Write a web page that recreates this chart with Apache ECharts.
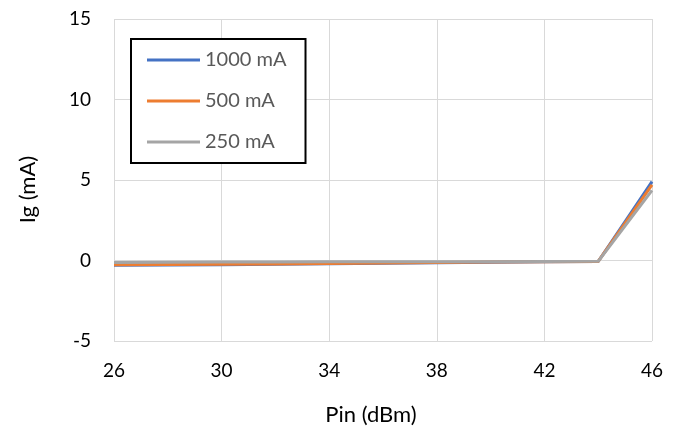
<!DOCTYPE html>
<html><head><meta charset="utf-8">
<script src="https://cdn.jsdelivr.net/npm/echarts@6/dist/echarts.min.js"></script>
<style>html,body{margin:0;padding:0;background:#fff}#c{width:680px;height:432px}</style>
</head><body><div id="c"></div>
<script>
const pin = [26, 28, 30, 32, 34, 36, 38, 40, 42, 44, 46];
const ig1000 = [-0.30, -0.28, -0.26, -0.23, -0.20, -0.17, -0.14, -0.11, -0.08, -0.06, 4.9];
const ig500  = [-0.27, -0.25, -0.23, -0.21, -0.18, -0.15, -0.13, -0.10, -0.08, -0.06, 4.7];
const ig250  = [-0.12, -0.11, -0.10, -0.09, -0.08, -0.08, -0.07, -0.07, -0.06, -0.05, 4.35];
const xTicks = [26, 30, 34, 38, 42, 46];
const seriesNames = ['1000 mA', '500 mA', '250 mA'];
const colors = ['#4472C4', '#ED7D31', '#A5A5A5'];

const font = 'Lato, "Open Sans", sans-serif';
const pair = arr => pin.map((x, i) => [x, arr[i]]);
const chart = echarts.init(document.getElementById('c'), null, {renderer: 'canvas'});
chart.setOption({
  animation: false,
  grid: {left: 114, right: 28, top: 19, bottom: 91},
  xAxis: {
    type: 'value', min: 26, max: 46,
    name: 'Pin (dBm)', nameLocation: 'middle', nameGap: 63,
    nameTextStyle: {fontFamily: font, fontSize: 22, color: '#000', padding: [0, 24, 0, 0]},
    axisLine: {show: false},
    axisTick: {show: false, customValues: xTicks},
    axisLabel: {customValues: xTicks, fontFamily: font, fontSize: 19, color: '#000', margin: 20},
    splitLine: {show: true, lineStyle: {color: '#D9D9D9', width: 1}}
  },
  yAxis: {
    type: 'value', min: -5, max: 15, interval: 5,
    name: 'Ig (mA)', nameLocation: 'middle', nameGap: 75, nameRotate: 90,
    nameTextStyle: {fontFamily: font, fontSize: 22, color: '#000', padding: [0, 19, 0, 0]},
    axisLine: {show: false}, axisTick: {show: false},
    axisLabel: {fontFamily: font, fontSize: 19, color: '#000', margin: 23},
    splitLine: {show: true, lineStyle: {color: '#D9D9D9', width: 1}}
  },
  legend: {
    orient: 'vertical', left: 131, top: 39,
    data: seriesNames,
    icon: 'rect', itemWidth: 53, itemHeight: 3, itemGap: 19,
    padding: [10, 19, 10, 16],
    borderColor: '#000', borderWidth: 2,
    backgroundColor: '#fff',
    textStyle: {fontFamily: font, fontSize: 20, color: '#595959', lineHeight: 22}
  },
  series: [ig1000, ig500, ig250].map((d, i) => ({
    name: seriesNames[i], type: 'line', data: pair(d),
    showSymbol: false, symbol: 'none',
    lineStyle: {color: colors[i], width: 3},
    itemStyle: {color: colors[i]}
  }))
});
</script></body></html>
